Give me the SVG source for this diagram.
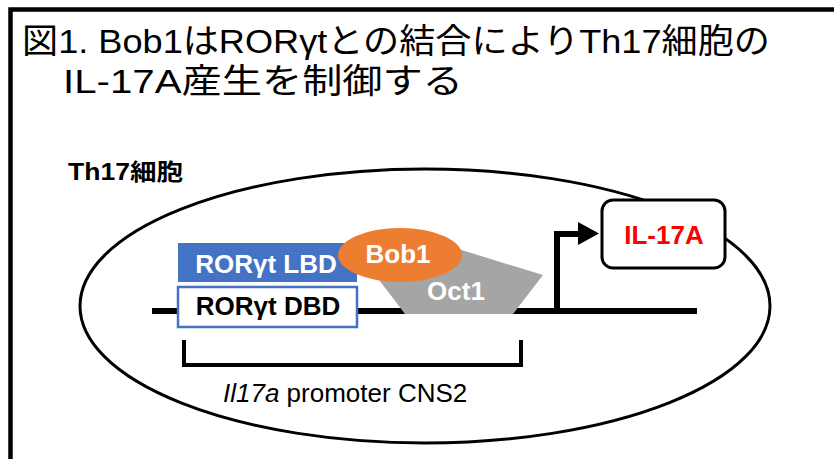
<svg xmlns="http://www.w3.org/2000/svg" width="834" height="459" viewBox="0 0 834 459">
<style>
text{font-family:"Liberation Sans","Noto Sans CJK JP",sans-serif}
.b{font-weight:bold}
.lbl{font-size:26px;font-weight:bold;text-anchor:middle}
.ln{fill:none;stroke:#000}
</style>
<rect width="834" height="459" fill="#fff"/>
<path d="M10.5,459V9.5H834" fill="none" stroke="#000" stroke-width="4.5"/>
<g id="title">
<text x="22" y="53" font-size="34" textLength="748" lengthAdjust="spacingAndGlyphs">図1. Bob1はRORγtとの結合によりTh17細胞の</text>
<text x="63" y="93" font-size="34" textLength="400" lengthAdjust="spacingAndGlyphs">IL-17A産生を制御する</text>
</g>
<g id="cell">
<ellipse cx="425" cy="306" rx="345" ry="137" class="ln" stroke-width="3"/>
<text x="68" y="180" class="b" font-size="23" textLength="115" lengthAdjust="spacingAndGlyphs">Th17細胞</text>
</g>
<g id="connectors">
<line x1="152" y1="311" x2="697" y2="311" stroke="#000" stroke-width="6"/>
<path d="M557,311V234H581" class="ln" stroke-width="6"/>
<polygon points="578,222 599,233.5 578,245" fill="#000"/>
<path d="M184,340V365H521V340" class="ln" stroke-width="4"/>
</g>
<g id="oct1">
<polygon points="370,268 455,248 543,275 513,314 405,314" fill="#A5A5A5"/>
<text x="456" y="300" class="lbl" fill="#fff">Oct1</text>
</g>
<g id="lbd">
<rect x="178" y="243" width="179" height="39" fill="#4472C4"/>
<text x="266" y="273" class="lbl" fill="#fff">RORγt LBD</text>
</g>
<g id="dbd">
<rect x="178" y="287" width="179" height="40" fill="#fff" stroke="#4472C4" stroke-width="2.5"/>
<text x="268" y="315" class="lbl" fill="#000">RORγt DBD</text>
</g>
<g id="bob1">
<ellipse cx="400" cy="255" rx="62" ry="27" fill="#ED7D31"/>
<text x="398" y="263" class="lbl" fill="#fff">Bob1</text>
</g>
<g id="il17a">
<rect x="602" y="200" width="123" height="68" rx="11" fill="#fff" stroke="#000" stroke-width="3"/>
<text x="664" y="244" class="lbl" fill="#FF0000">IL-17A</text>
</g>
<g id="cns2">
<text x="223" y="402" font-size="26"><tspan font-style="italic">Il17a</tspan> promoter CNS2</text>
</g>
</svg>
